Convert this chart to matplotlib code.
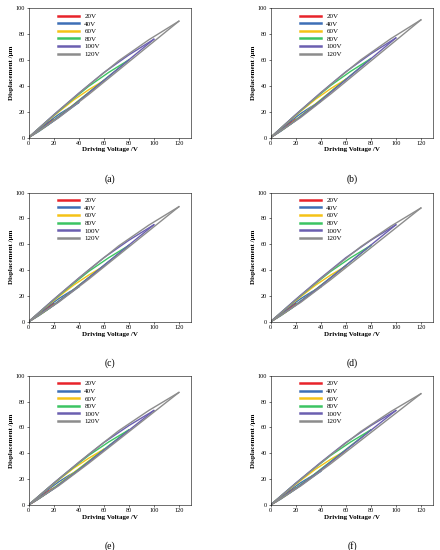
import matplotlib.pyplot as plt
import numpy as np

plt.rcParams["font.family"] = "Liberation Serif"

# loop amplitudes (V) and colours
amplitudes = [20, 40, 60, 80, 100, 120]
labels = ["20V", "40V", "60V", "80V", "100V", "120V"]
colors = ["#e8232a", "#3d6fb6", "#f5c216", "#3cc463", "#6b5fb0", "#8c8c8c"]

# peak displacement (um) per loop, one row per panel (a)-(f)
peaks = [
    [14, 27, 44, 60, 76, 90],
    [14, 28, 45, 61, 77, 91],
    [14, 27, 43, 59, 75, 89],
    [14, 27, 43, 59, 75, 88],
    [13, 27, 43, 58, 73, 87],
    [13, 26, 42, 58, 73, 86],
]
panel_names = ["(a)", "(b)", "(c)", "(d)", "(e)", "(f)"]

# normalised loop shape: voltage fraction vs displacement fraction
frac_v = [0, 0.2, 0.4, 0.6, 0.8, 1.0]
rise = [0, 0.17, 0.37, 0.58, 0.79, 1.0]
fall = [0, 0.23, 0.45, 0.66, 0.84, 1.0]

fig = plt.figure(figsize=(4.4, 5.5), dpi=100)
lefts = [0.065, 0.615]
bottoms = [0.75, 0.415, 0.082]
w, h = 0.37, 0.235

for i, name in enumerate(panel_names):
    ax = fig.add_axes([lefts[i % 2], bottoms[i // 2], w, h])
    for amp, lab, col, pk in zip(amplitudes, labels, colors, peaks[i]):
        v = np.array(frac_v) * amp
        ax.plot(v, np.array(rise) * pk, color=col, lw=1.0, label=lab)
        ax.plot(v, np.array(fall) * pk, color=col, lw=1.0)
    ax.set_xlim(0, 130)
    ax.set_ylim(0, 100)
    ax.set_xticks(range(0, 121, 20))
    ax.set_yticks(range(0, 101, 20))
    ax.tick_params(labelsize=4.5, length=1.5, width=0.4, pad=1)
    for s in ax.spines.values():
        s.set_linewidth(0.4)
    ax.set_xlabel("Driving Voltage /V", fontsize=5, fontweight="bold", labelpad=1)
    ax.set_ylabel("Displacement /\u03bcm", fontsize=5, fontweight="bold", labelpad=1)
    leg = ax.legend(loc="upper left", bbox_to_anchor=(0.15, 1.0), fontsize=5, frameon=False,
                    handlelength=3, labelspacing=0.25, borderpad=0.2)
    for line in leg.get_lines():
        line.set_linewidth(1.8)
    ax.text(0.5, -0.32, name, transform=ax.transAxes, ha="center", va="center", fontsize=7)

fig.savefig("out.png", dpi=100)
